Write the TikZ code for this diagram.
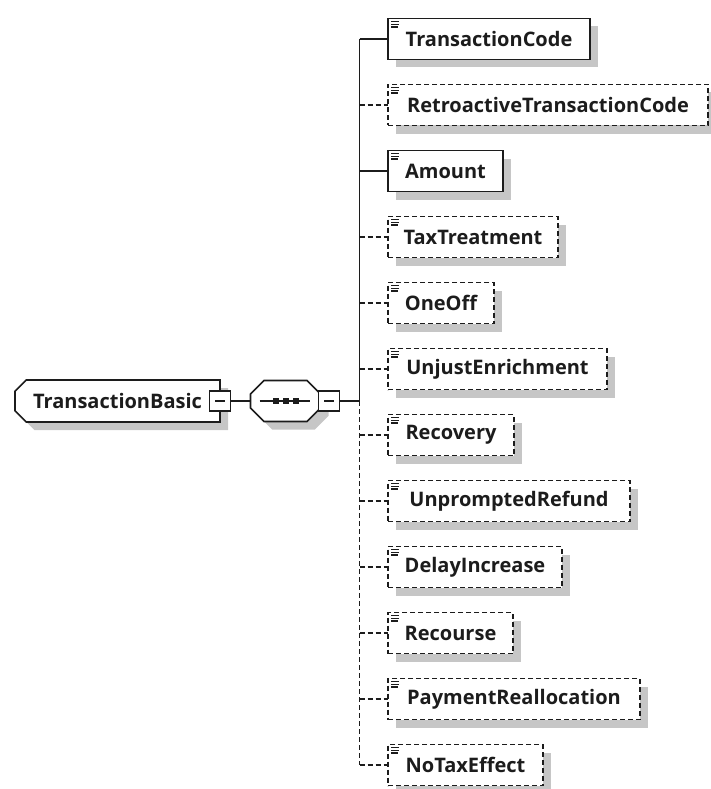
\documentclass[tikz,border=0pt]{standalone}
\usepackage{fontspec}
\setmainfont{Open Sans}
\usetikzlibrary{positioning,shapes.misc,shadows}
\definecolor{ink}{HTML}{1C1C1C}
\definecolor{shade}{HTML}{C6C6C6}
\tikzset{
  every node/.style={font=\fontsize{20}{24}\selectfont\bfseries,text=ink},
  link/.style={draw=ink,line width=1.5pt},
  optlink/.style={link,dash pattern=on 5pt off 3pt},
  shadowed/.style={drop shadow={shadow xshift=8pt,shadow yshift=-8pt,fill=shade,opacity=1}},
  elem/.style={draw=ink,line width=1.6pt,fill=white,shadowed,minimum height=41pt,inner sep=0pt,outer sep=0pt,
    path picture={\draw[solid,draw=ink,line width=1.4pt]
      ([shift={(3pt,-3.2pt)}]path picture bounding box.north west) -- ++(8pt,0)
      ++(-8pt,-2.7pt) -- ++(8pt,0) ++(-8pt,-2.7pt) -- ++(7pt,0);}},
  optelem/.style={elem,dash pattern=on 5pt off 3pt},
  rootbox/.style={chamfered rectangle,chamfered rectangle corners={north west,south west},
    chamfered rectangle xsep=8pt,draw=ink,line width=1.6pt,fill=white,shadowed,
    minimum width=205pt,minimum height=42pt,inner sep=0pt,outer sep=0pt},
  seqbox/.style={chamfered rectangle,chamfered rectangle corners=chamfer all,chamfered rectangle xsep=10pt,
    draw=ink,line width=1.6pt,fill=white,shadowed,minimum width=70pt,minimum height=41pt,
    inner xsep=22pt,inner ysep=10pt,outer sep=0pt,
    path picture={\draw[draw=ink,line width=1.5pt] ([xshift=-26pt]path picture bounding box.center) -- ++(50pt,0);
      \foreach \dx in {-10,0,10}
        \fill[ink] ([xshift=\dx pt]path picture bounding box.center) +(-3pt,-3pt) rectangle +(3pt,3pt);}},
  minusbox/.style={draw=ink,line width=1.5pt,fill=white,minimum width=21pt,minimum height=20pt,inner sep=0pt,outer sep=0pt,
    path picture={\draw[draw=ink,line width=1.3pt] ([xshift=-5pt]path picture bounding box.center) -- ++(10pt,0);}},
}

\begin{document}
\begin{tikzpicture}[x=1pt,y=-1pt,node distance=25pt]
\useasboundingbox (0,0) rectangle (711,789);

\node[rootbox,anchor=west] (tb) at (15,401) {TransactionBasic\hspace{14pt}};
\node[minusbox] (tbx) at (tb.east) {};
\node[seqbox,right=20pt of tbx] (seq) {};
\node[minusbox,right=-2pt of seq] (seqx) {};
\coordinate[right=20pt of seqx] (trunk);

\node[elem,minimum width=202pt,anchor=west] (tc) at (388,39) {TransactionCode};
\node[optelem,minimum width=320pt,below=of tc.south west,anchor=north west] (rtc) {RetroactiveTransactionCode};
\node[elem,minimum width=115pt,below=of rtc.south west,anchor=north west] (amt) {Amount};
\node[optelem,minimum width=170pt,below=of amt.south west,anchor=north west] (tt) {TaxTreatment};
\node[optelem,minimum width=106pt,below=of tt.south west,anchor=north west] (oo) {OneOff};
\node[optelem,minimum width=219pt,below=of oo.south west,anchor=north west] (ue) {UnjustEnrichment};
\node[optelem,minimum width=126pt,below=of ue.south west,anchor=north west] (rec) {Recovery};
\node[optelem,minimum width=242pt,below=of rec.south west,anchor=north west] (upr) {UnpromptedRefund};
\node[optelem,minimum width=174pt,below=of upr.south west,anchor=north west] (di) {DelayIncrease};
\node[optelem,minimum width=125pt,below=of di.south west,anchor=north west] (rcs) {Recourse};
\node[optelem,minimum width=252pt,below=of rcs.south west,anchor=north west] (pr) {PaymentReallocation};
\node[optelem,minimum width=155pt,below=of pr.south west,anchor=north west] (nte) {NoTaxEffect};

\draw[link] (tbx) -- (seq);
\draw[link] (seqx) -- (trunk);
\draw[link] (tc.west -| trunk) -- (trunk);
\draw[optlink] (trunk) -- (nte.west -| trunk);

\draw[link] (tc.west -| trunk) -- (tc.west);
\draw[optlink] (rtc.west -| trunk) -- (rtc.west);
\draw[link] (amt.west -| trunk) -- (amt.west);
\draw[optlink] (tt.west -| trunk) -- (tt.west);
\draw[optlink] (oo.west -| trunk) -- (oo.west);
\draw[optlink] (ue.west -| trunk) -- (ue.west);
\draw[optlink] (rec.west -| trunk) -- (rec.west);
\draw[optlink] (upr.west -| trunk) -- (upr.west);
\draw[optlink] (di.west -| trunk) -- (di.west);
\draw[optlink] (rcs.west -| trunk) -- (rcs.west);
\draw[optlink] (pr.west -| trunk) -- (pr.west);
\draw[optlink] (nte.west -| trunk) -- (nte.west);

\end{tikzpicture}
\end{document}
